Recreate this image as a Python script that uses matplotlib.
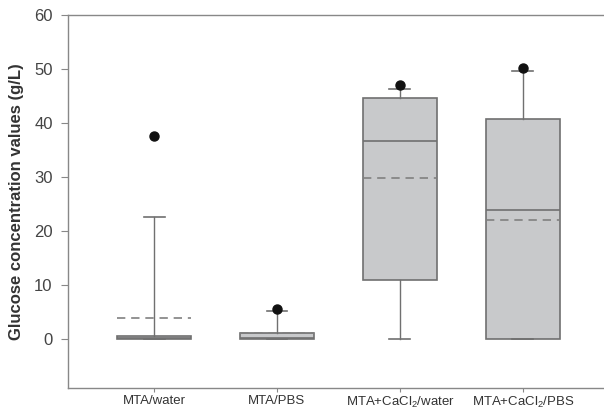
import matplotlib
matplotlib.use("Agg")
import matplotlib.pyplot as plt

plt.rcParams['font.family'] = ['Liberation Sans', 'DejaVu Sans']
plt.rcParams['mathtext.fontset'] = 'custom'
plt.rcParams['mathtext.rm'] = 'Liberation Sans'
plt.rcParams['mathtext.default'] = 'regular'

# box statistics (g/L)
labels = ["MTA/water", "MTA/PBS", "MTA+CaCl$_2$/water", "MTA+CaCl$_2$/PBS"]
q1 = [0.0, 0.0, 11.0, 0.0]
med = [0.3, 0.3, 36.7, 23.9]
q3 = [0.7, 1.2, 44.6, 40.7]
whislo = [0.0, 0.0, 0.0, 0.0]
whishi = [22.6, 5.3, 46.3, 49.7]
means = [4.0, 1.2, 29.8, 22.1]
fliers = [[37.7], [5.6], [47.0], [50.2]]

stats = []
for i in range(len(labels)):
    stats.append(dict(label=labels[i], q1=q1[i], med=med[i], q3=q3[i],
                      whislo=whislo[i], whishi=whishi[i], mean=means[i],
                      fliers=fliers[i]))

edge = '#707070'
fig = plt.figure(figsize=(6.04, 4.12), dpi=100)
ax = fig.add_axes([0.1126, 0.058, 0.8874, 0.9056])

ax.bxp(stats, positions=[1, 2, 3, 4], widths=0.6, capwidths=0.17,
       patch_artist=True, showmeans=True, meanline=True,
       boxprops=dict(facecolor='#c8c9cb', edgecolor=edge, linewidth=1.2),
       medianprops=dict(color=edge, linewidth=1.2),
       whiskerprops=dict(color=edge, linewidth=1.0),
       capprops=dict(color=edge, linewidth=1.2),
       meanprops=dict(color='#808080', linestyle=(0, (5, 3.5)), linewidth=1.2),
       flierprops=dict(marker='o', markerfacecolor='#111111',
                       markeredgecolor='#111111', markersize=6.5))

ax.set_xlim(0.3, 4.66)
ax.set_ylim(-9, 60)
ax.set_yticks([0, 10, 20, 30, 40, 50, 60])
ax.set_ylabel("Glucose concentration values (g/L)", fontsize=12,
              fontweight='bold', color='#333333', labelpad=7)

for s in ['top', 'bottom', 'left']:
    ax.spines[s].set_color('#888888')
    ax.spines[s].set_linewidth(1.0)
ax.spines['right'].set_visible(False)
ax.tick_params(axis='y', colors='#888888', labelcolor='#444444',
               labelsize=12, length=5, direction='out', pad=6)
ax.tick_params(axis='x', colors='#888888', labelcolor='#333333',
               labelsize=9.5, length=3, direction='out', pad=2)

fig.savefig("out.png", dpi=100)
